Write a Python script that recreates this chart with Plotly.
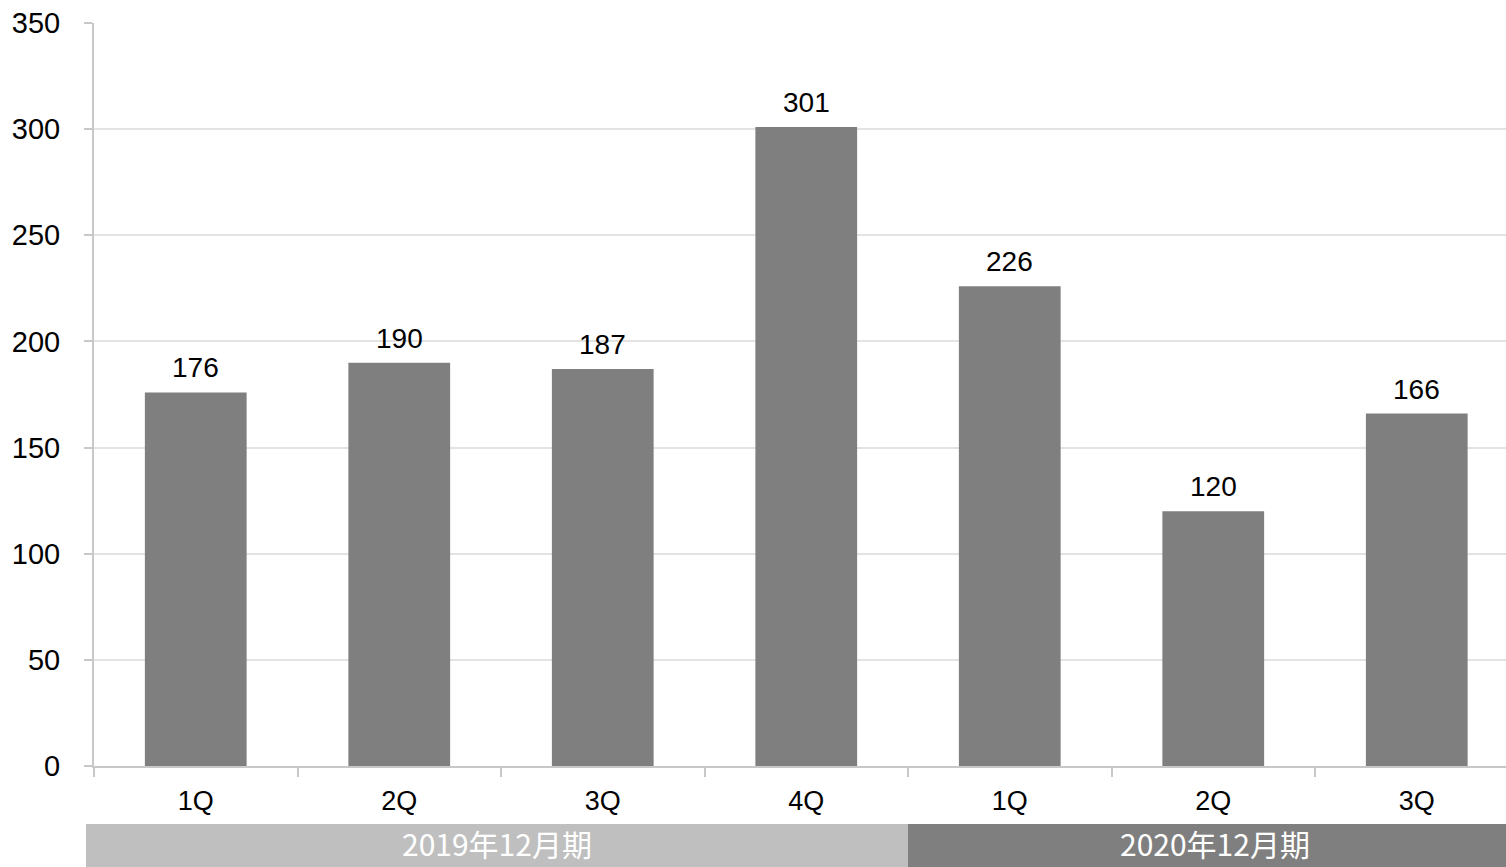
import plotly.graph_objects as go

categories = ["1Q", "2Q", "3Q", "4Q", "1Q ", "2Q ", "3Q "]
tick_labels = ["1Q", "2Q", "3Q", "4Q", "1Q", "2Q", "3Q"]
values = [176, 190, 187, 301, 226, 120, 166]
periods = ["2019年12月期", "2020年12月期"]

W, H = 1506, 867
L, R, T, B = 94, 0, 23, 101
pw, ph = W - L - R, H - T - B
slot = 203.5  # pixel width of one category slot in the reference
x_hi = -0.5 + pw / slot

fig = go.Figure()
fig.add_trace(go.Bar(
    x=categories, y=values,
    marker=dict(color="#7f7f7f", line=dict(width=0)),
    hoverinfo="skip",
))

for c, v in zip(categories, values):
    fig.add_annotation(x=c, y=v, text=str(v), showarrow=False,
                       yanchor="bottom", yshift=7,
                       font=dict(family="Liberation Sans, Arial", size=28, color="#000000"))

def px_x(p):
    return (p - L) / pw

def px_y(p):
    return (H - B - p) / ph

band_top, band_bot = 824, 867
bands = [(86, 908, "#bfbfbf", 497.5), (908, 1530, "#7f7f7f", 1215)]
for (x0, x1, col, cx), label in zip(bands, periods):
    fig.add_shape(type="rect", xref="paper", yref="paper",
                  x0=px_x(x0), x1=px_x(x1), y0=px_y(band_bot), y1=px_y(band_top),
                  fillcolor=col, line=dict(width=0), layer="above")
    fig.add_annotation(xref="paper", yref="paper", x=px_x(cx), y=px_y(843),
                       text=label, showarrow=False, xanchor="center", yanchor="middle",
                       font=dict(family="Noto Sans CJK JP", size=30, color="#ffffff"))

fig.update_layout(
    width=W, height=H,
    margin=dict(l=L, r=R, t=T, b=B, pad=0),
    paper_bgcolor="#ffffff", plot_bgcolor="#ffffff",
    bargap=0.5, showlegend=False,
    font=dict(family="Liberation Sans, Arial", size=28, color="#000000"),
)
fig.update_xaxes(
    tickvals=categories, ticktext=tick_labels, range=[-0.5, x_hi],
    tickson="boundaries", ticks="outside", ticklen=9, tickwidth=2, tickcolor="#c8c8c8",
    showline=True, linecolor="#c8c8c8", linewidth=2,
    showgrid=False, tickfont=dict(size=27), ticklabelstandoff=10,
)
fig.update_yaxes(
    range=[0, 350], dtick=50, tick0=0,
    ticks="outside", ticklen=8, tickwidth=2, tickcolor="#c8c8c8",
    showline=True, linecolor="#c8c8c8", linewidth=2,
    showgrid=True, gridcolor="#e3e3e3", gridwidth=1.5,
    zeroline=False, tickfont=dict(size=29), ticklabelstandoff=18,
)

fig.write_html("out.html")
